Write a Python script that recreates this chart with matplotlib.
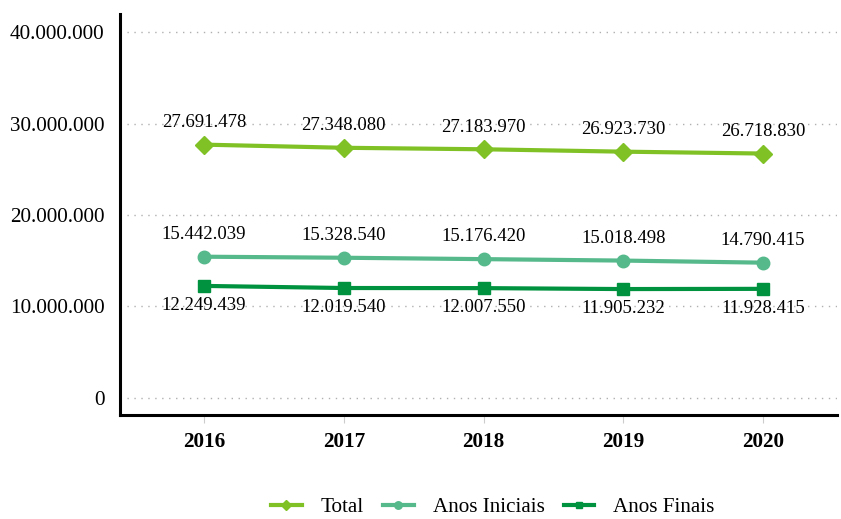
import matplotlib
matplotlib.use("Agg")
import matplotlib.pyplot as plt
import numpy as np

years = ["2016", "2017", "2018", "2019", "2020"]
total = [27691478, 27348080, 27183970, 26923730, 26718830]
iniciais = [15442039, 15328540, 15176420, 15018498, 14790415]
finais = [12249439, 12019540, 12007550, 11905232, 11928415]
yticks = [0, 10000000, 20000000, 30000000, 40000000]

plt.rcParams['font.family'] = ['Liberation Serif', 'DejaVu Serif']

def fmt(v):
    return f"{v:,}".replace(",", ".")

fig = plt.figure(figsize=(8.41, 5.19), dpi=100)
ax = fig.add_axes([0.1427, 0.2004, 0.852, 0.7726])

x = np.arange(len(years))
c_total = "#80C226"
c_ini = "#55B98C"
c_fin = "#00923F"

ax.plot(x, total, color=c_total, lw=3, marker="D", ms=9, label="Total", zorder=3)
ax.plot(x, iniciais, color=c_ini, lw=3, marker="o", ms=9, label="Anos Iniciais", zorder=3)
ax.plot(x, finais, color=c_fin, lw=3, marker="s", ms=8, label="Anos Finais", zorder=3)

for xi, v in zip(x, total):
    ax.annotate(fmt(v), (xi, v), xytext=(0, 16), textcoords="offset points",
                ha="center", va="center", fontsize=13.5)
for xi, v in zip(x, iniciais):
    ax.annotate(fmt(v), (xi, v), xytext=(0, 16), textcoords="offset points",
                ha="center", va="center", fontsize=13.5)
for xi, v in zip(x, finais):
    ax.annotate(fmt(v), (xi, v), xytext=(0, -14), textcoords="offset points",
                ha="center", va="center", fontsize=13.5)

ax.set_xlim(-0.601, 4.526)
ax.set_ylim(-1860000, 41970000)
ax.set_yticks(yticks)
ax.set_yticklabels([fmt(v) for v in yticks], fontsize=15.2)
ax.set_xticks(x)
ax.set_xticklabels(years, fontsize=15.2, fontweight="bold")
ax.tick_params(axis="y", length=0, pad=11)
ax.tick_params(axis="x", length=6, color="#CCCCCC", pad=6)

ax.yaxis.grid(True, linestyle=(0, (1, 4)), color="#B0B0B0", lw=1)
ax.set_axisbelow(True)
for s in ["top", "right"]:
    ax.spines[s].set_visible(False)
ax.spines["left"].set_linewidth(2.2)
ax.spines["bottom"].set_linewidth(2.2)

fig.legend(loc="center", bbox_to_anchor=(0.586, 0.022), ncol=3, frameon=False,
           fontsize=15.2, handlelength=1.45, handletextpad=0.9, columnspacing=0.9,
           markerscale=0.6, borderpad=0.1)

fig.savefig("out.png", dpi=100)
